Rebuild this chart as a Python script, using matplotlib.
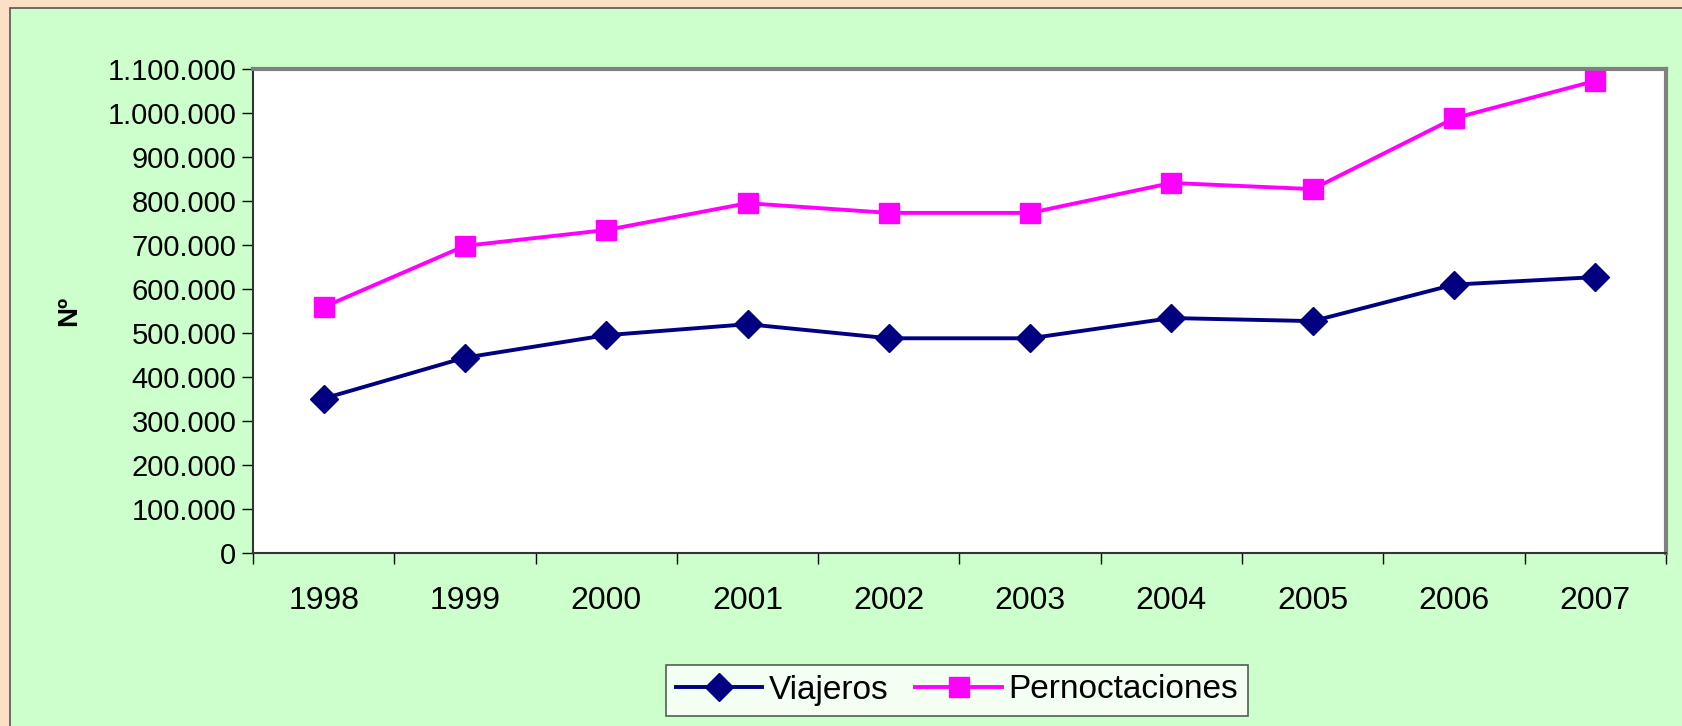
import matplotlib
matplotlib.use("Agg")
import matplotlib.pyplot as plt
from matplotlib.patches import Rectangle
from matplotlib.ticker import FuncFormatter, FixedLocator

plt.rcParams['font.family'] = ['Liberation Sans', 'DejaVu Sans']

years = ['1998', '1999', '2000', '2001', '2002', '2003', '2004', '2005', '2006', '2007']
viajeros = [351000, 444000, 495000, 520000, 488000, 488000, 534000, 527000, 610000, 627000]
pernoctaciones = [559000, 698000, 734000, 795000, 773000, 773000, 841000, 827000, 988000, 1073000]
yticks = list(range(0, 1100001, 100000))

W, H = 1683, 726
fig = plt.figure(figsize=(W / 100, H / 100), dpi=100)
fig.patch.set_facecolor('#FCE0C5')
bg = Rectangle((10 / W, -0.05), 1.1, 1 - 8 / H + 0.05, transform=fig.transFigure,
               facecolor='#CCFFCC', edgecolor='#555555', linewidth=1.2, zorder=-10)
fig.add_artist(bg)

ax = fig.add_axes([253 / W, 1 - 553 / H, (1666 - 253) / W, (553 - 69) / H])
ax.set_zorder(1)
ax.set_facecolor('white')
x = list(range(len(years)))
ax.plot(x, viajeros, color='#000080', linewidth=2.8, marker='D', markersize=14,
        label='Viajeros', clip_on=False, zorder=3)
ax.plot(x, pernoctaciones, color='#FF00FF', linewidth=2.8, marker='s', markersize=14,
        label='Pernoctaciones', clip_on=False, zorder=3)

ax.set_xlim(-0.5, len(years) - 0.5)
ax.set_ylim(0, 1100000)
ax.set_xticks(x)
ax.set_xticklabels(years)
ax.xaxis.set_minor_locator(FixedLocator([i - 0.5 for i in range(len(years) + 1)]))
ax.tick_params(axis='x', which='major', length=0, pad=24, labelsize=23)
ax.tick_params(axis='x', which='minor', length=8, width=1, color='black')
ax.set_yticks(yticks)
ax.yaxis.set_major_formatter(FuncFormatter(lambda v, p: f"{int(v):,}".replace(",", ".")))
ax.tick_params(axis='y', length=8, width=1, pad=4, labelsize=21)

for side in ['top', 'right']:
    ax.spines[side].set_color('#808080')
    ax.spines[side].set_linewidth(3)
for side in ['left', 'bottom']:
    ax.spines[side].set_color('#333333')
    ax.spines[side].set_linewidth(1.5)

ax.set_ylabel('Nº', fontsize=20, fontweight='bold', labelpad=18)

leg = ax.legend(loc='center', bbox_to_anchor=(957 / W, 1 - 690 / H), bbox_transform=fig.transFigure,
                ncol=2, fontsize=24, frameon=True, fancybox=False, edgecolor='#333333',
                handlelength=2.6, columnspacing=0.8, handletextpad=0.2, borderpad=0.3,
                borderaxespad=0)
leg.get_frame().set_linewidth(1.2)

fig.savefig('out.png', dpi=100, facecolor=fig.get_facecolor())
